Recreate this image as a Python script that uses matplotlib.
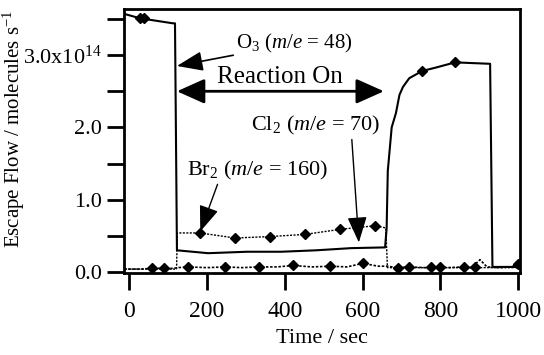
import matplotlib
matplotlib.use("Agg")
import matplotlib.pyplot as plt

plt.rcParams['font.family'] = ['Liberation Serif', 'DejaVu Serif']
plt.rcParams['mathtext.fontset'] = 'custom'
plt.rcParams['mathtext.rm'] = 'Liberation Serif'
plt.rcParams['mathtext.it'] = 'Liberation Serif:italic'

# O3 (m/e = 48), units of 1e14 molecules/s
o3_t = [-12, 28, 113, 118, 123, 203, 303, 391, 481, 571, 658, 662, 665, 675, 686, 695, 704,
        720, 753, 790, 838, 928, 934, 1000]
o3_y = [3.57, 3.51, 3.44, 3.44, 0.30, 0.26, 0.28, 0.28, 0.30, 0.33, 0.34, 0.60, 1.40, 2.00,
        2.20, 2.45, 2.56, 2.68, 2.78, 2.83, 2.90, 2.88, 0.07, 0.07]
o3_mark_t = [28, 38, 753, 838]
o3_mark_y = [3.51, 3.51, 2.78, 2.90]

# Br2 (m/e = 160)
br2_t = [-12, 122, 124, 183, 272, 362, 452, 543, 632, 660, 664, 1000]
br2_y = [0.04, 0.04, 0.54, 0.54, 0.47, 0.49, 0.52, 0.59, 0.64, 0.61, 0.06, 0.06]
br2_mark_t = [183, 272, 362, 452, 543, 632]
br2_mark_y = [0.54, 0.47, 0.49, 0.52, 0.59, 0.64]

# Cl2 (m/e = 70)
cl2_t = [-12, 30, 59, 90, 113, 125, 152, 200, 247, 290, 333, 380, 422, 470, 517, 560, 601,
         640, 664, 690, 720, 760, 790, 820, 860, 880, 902, 920, 950, 980, 1000]
cl2_y = [0.04, 0.04, 0.05, 0.05, 0.05, 0.06, 0.07, 0.06, 0.07, 0.06, 0.07, 0.07, 0.09, 0.07,
         0.08, 0.07, 0.12, 0.08, 0.08, 0.06, 0.07, 0.06, 0.07, 0.06, 0.07, 0.06, 0.17, 0.07,
         0.06, 0.07, 0.11]
cl2_mark_t = [59, 90, 152, 247, 333, 422, 517, 601, 690, 720, 775, 800, 860, 890, 1000]
cl2_mark_y = [0.05, 0.05, 0.07, 0.07, 0.07, 0.09, 0.08, 0.12, 0.06, 0.07, 0.07, 0.07, 0.07, 0.07, 0.11]

y_ticks = [0, 0.5, 1.0, 1.5, 2.0, 2.5, 3.0, 3.5]
y_labels = ['0.0', '', '1.0', '', '2.0', '', '3.0x10$^{14}$', '']
x_ticks = [0, 200, 400, 600, 800, 1000]

fig = plt.figure(figsize=(5.44, 3.55), dpi=100)
ax = fig.add_axes([0.228, 0.231, 0.728, 0.744])

ax.plot(o3_t, o3_y, color='black', lw=1.5)
ax.plot(br2_t, br2_y, color='black', lw=1.0, ls=(0, (1.5, 1)))
ax.plot(cl2_t, cl2_y, color='black', lw=1.2, ls=(0, (1.5, 1)))
ax.plot(o3_mark_t, o3_mark_y, 'D', color='black', ms=5)
ax.plot(br2_mark_t, br2_mark_y, 'D', color='black', ms=5)
ax.plot(cl2_mark_t, cl2_mark_y, 'D', color='black', ms=5)

ax.set_xlim(-13, 1005)
ax.set_ylim(-0.014, 3.64)
ax.set_xticks(x_ticks)
ax.set_yticks(y_ticks)
ax.set_yticklabels(y_labels)
ax.tick_params(direction='out', length=12, width=2, labelsize=16, pad=4, color='black')
ax.tick_params(axis='x', labelsize=17, pad=8)
for s in ax.spines.values():
    s.set_linewidth(2)

ax.set_xlabel('Time / sec', fontsize=16, labelpad=5)
ax.set_ylabel('Escape Flow / molecules s$^{-1}$', fontsize=15)
ax.yaxis.set_label_coords(-0.245, 0.545)

ax.annotate('O$_3$ ($m/e$ = 48)', xy=(123, 2.85), xytext=(275, 3.16), fontsize=15,
            va='center', ha='left',
            arrowprops=dict(arrowstyle='-|>,head_length=1.0,head_width=0.38', color='black',
                            lw=1.2, shrinkA=0, shrinkB=0, mutation_scale=16))
ax.annotate('', xy=(123, 2.5), xytext=(655, 2.5),
            arrowprops=dict(arrowstyle='<|-|>,head_length=0.85,head_width=0.38',
                            color='black', lw=2, shrinkA=0, shrinkB=0, mutation_scale=20))
ax.text(388, 2.70, 'Reaction On', fontsize=18, ha='center', va='center')
ax.annotate('Cl$_2$ ($m/e$ = 70)', xy=(594, 0.14), xytext=(645, 2.03), fontsize=16,
            ha='right', va='center',
            arrowprops=dict(arrowstyle='-|>,head_length=1.0,head_width=0.38', color='black',
                            lw=1.0, shrinkA=0, shrinkB=14, relpos=(0.78, 0.0),
                            mutation_scale=16))
ax.annotate('Br$_2$ ($m/e$ = 160)', xy=(183, 0.56), xytext=(150, 1.41), fontsize=16,
            ha='left', va='center',
            arrowprops=dict(arrowstyle='-|>,head_length=1.0,head_width=0.38', color='black',
                            lw=1.0, shrinkA=0, shrinkB=0, relpos=(0.22, 0.0),
                            mutation_scale=16))

fig.savefig('out.png', dpi=100)
